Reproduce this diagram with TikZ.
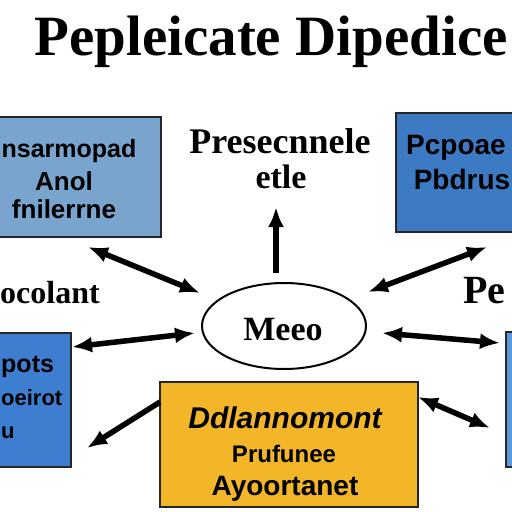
\documentclass[tikz,border=0pt]{standalone}
\usepackage{fontspec}
\setmainfont{Liberation Serif}
\setsansfont{Liberation Sans}
\usetikzlibrary{arrows.meta,shapes.geometric}
\definecolor{paleblue}{RGB}{120,164,206}
\definecolor{deepblue}{RGB}{60,122,196}
\definecolor{midblue}{RGB}{62,126,208}
\definecolor{skyblue}{RGB}{92,152,220}
\definecolor{amber}{RGB}{242,182,40}
\tikzset{
  box/.style={draw=black!85, line width=1.5pt, inner sep=0pt},
  link/.style={line width=5.5pt, {Latex[length=20pt,width=16pt]}-{Latex[length=20pt,width=16pt]}},
  uplink/.style={line width=5.5pt, -{Latex[length=20pt,width=16pt]}},
  boxtext/.style={font=\sffamily\bfseries\fontsize{26}{30}\selectfont, anchor=base, inner sep=0pt},
  serifbig/.style={font=\bfseries\fontsize{34}{38}\selectfont, anchor=base, inner sep=0pt}
}

\begin{document}
\begin{tikzpicture}[x=1pt,y=-1pt]
\useasboundingbox (0,0) rectangle (512,512);

\node[font=\bfseries\fontsize{57}{60}\selectfont, anchor=base, inner sep=0pt] (title) at (271,55) {Pepleicate Dipedice};

\node[box, fill=paleblue, minimum width=201pt, minimum height=120pt] (boxTL) at (60.5,177) {};
\node[boxtext, font=\sffamily\bfseries\fontsize{25}{30}\selectfont] (tl1) at (69,157) {nsarmopad};
\node[boxtext] (tl2) at (64,190) {Anol};
\node[boxtext] (tl3) at (64,218) {fnilerrne};

\node[box, fill=deepblue, minimum width=164pt, minimum height=119pt] (boxTR) at (478,172.5) {};
\node[boxtext, font=\sffamily\bfseries\fontsize{28}{32}\selectfont] (tr1) at (456,154) {Pcpoae};
\node[boxtext, font=\sffamily\bfseries\fontsize{28}{32}\selectfont] (tr2) at (462,189) {Pbdrus};

\node[serifbig, font=\bfseries\fontsize{36}{40}\selectfont] (top1) at (280,153) {Presecnnele};
\node[serifbig] (top2) at (281,188) {etle};

\node[serifbig, anchor=base west, font=\bfseries\fontsize{32}{36}\selectfont] (leftword) at (0,303) {ocolant};
\node[serifbig, anchor=base west, font=\bfseries\fontsize{40}{44}\selectfont] (rightword) at (463,303) {Pe};

\node[ellipse, draw, line width=2pt, fill=white, minimum width=164pt, minimum height=86pt] (hub) at (284,326) {};
\node[serifbig] (hubtext) at (283,340) {Meeo};

\node[box, fill=midblue, minimum width=131pt, minimum height=134pt] (boxL) at (5.5,400) {};
\node[boxtext, anchor=base west, font=\sffamily\bfseries\fontsize{25}{30}\selectfont] (l1) at (1,372) {pots};
\node[boxtext, anchor=base west, font=\sffamily\bfseries\fontsize{22}{30}\selectfont] (l2) at (1,405) {oeirot};
\node[boxtext, anchor=base west, font=\sffamily\bfseries\fontsize{22}{30}\selectfont] (l3) at (1,438) {u};

\node[box, fill=skyblue, minimum width=94pt, minimum height=135pt] (boxR) at (553,399.5) {};

\node[box, fill=amber, minimum width=258pt, minimum height=125pt] (boxY) at (289,444.5) {};
\node[boxtext, font=\sffamily\bfseries\itshape\fontsize{30}{32}\selectfont] (y1) at (285,428) {Ddlannomont};
\node[boxtext, font=\sffamily\bfseries\fontsize{24}{28}\selectfont] (y2) at (284,462) {Prufunee};
\node[boxtext, font=\sffamily\bfseries\fontsize{28}{32}\selectfont] (y3) at (285,495) {Ayoortanet};

\coordinate (hubUL) at (200,293);
\coordinate (tipUL) at (88,247);
\coordinate (hubN) at (276,273);
\coordinate (tipN) at (276,207);
\coordinate (hubUR) at (368,292);
\coordinate (tipUR) at (487,247);
\coordinate (hubW) at (195,333);
\coordinate (tipW) at (72,347);
\coordinate (hubE) at (382,333);
\coordinate (tipE) at (500,343);
\coordinate (yelW) at (160,402);
\coordinate (tipSW) at (87,448);
\coordinate (yelE) at (418,397);
\coordinate (tipSE) at (490,428);

\draw[link] (hubUL) -- (tipUL);
\draw[uplink] (hubN) -- (tipN);
\draw[link] (hubUR) -- (tipUR);
\draw[link] (hubW) -- (tipW);
\draw[link] (hubE) -- (tipE);
\draw[uplink] (yelW) -- (tipSW);
\draw[link] (yelE) -- (tipSE);
\end{tikzpicture}
\end{document}
